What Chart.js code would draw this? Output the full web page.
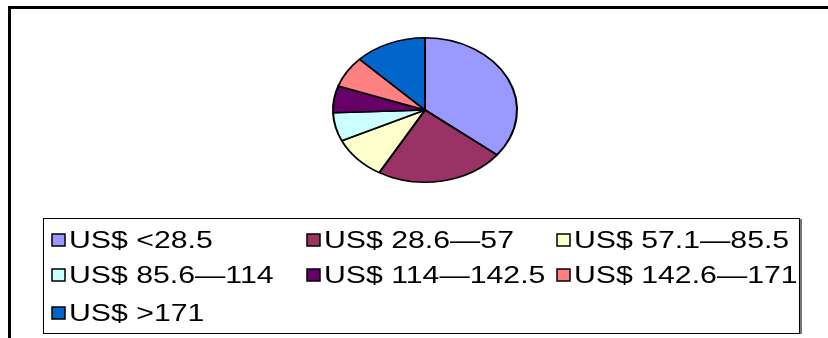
<!DOCTYPE html>
<html>
<head>
<meta charset="utf-8">
<script src="https://cdn.jsdelivr.net/npm/chart.js@4"></script>
<style>
html,body{margin:0;padding:0;background:#fff;}
#wrap{position:relative;width:828px;height:338px;}
</style>
</head>
<body>
<div id="wrap"><canvas id="c" width="828" height="338"></canvas></div>
<script>
const categories = ["US$ <28.5","US$ 28.6\u201457","US$ 57.1\u201485.5","US$ 85.6\u2014114","US$ 114\u2014142.5","US$ 142.6\u2014171","US$ >171"];
const shares = [35.7, 22.6, 9.7, 6.4, 6.0, 7.0, 12.6];
const colors = ["#9999FF","#993366","#FFFFCC","#CCFFFF","#660066","#FF8080","#0066CC"];

const ellipse = {
  id:'ellipse',
  beforeDatasetsDraw(chart){
    const ctx=chart.ctx, a=chart.chartArea;
    const cx=(a.left+a.right)/2, cy=(a.top+a.bottom)/2;
    ctx.save();
    ctx.translate(cx,cy); ctx.scale(93/73,1); ctx.translate(-cx,-cy);
  },
  afterDatasetsDraw(chart){ chart.ctx.restore(); }
};

const frameLegend = {
  id:'frameLegend',
  afterDraw(chart){
    const ctx=chart.ctx;
    ctx.save();
    ctx.strokeStyle='#000'; ctx.lineWidth=3;
    ctx.beginPath(); ctx.moveTo(9.5,340); ctx.lineTo(9.5,7.5); ctx.lineTo(830,7.5); ctx.stroke();
    ctx.lineWidth=1; ctx.strokeStyle='#000';
    ctx.strokeRect(43.5,218.5,756,115);
    ctx.strokeStyle='#777'; ctx.lineWidth=2;
    ctx.beginPath(); ctx.moveTo(801,219); ctx.lineTo(801,334); ctx.stroke();
    const colX=[52,307,557], rowY=[240,275,313];
    ctx.font='24px "Liberation Sans", Arial, sans-serif';
    ctx.textBaseline='middle'; ctx.textAlign='left';
    chart.data.labels.forEach((lab,i)=>{
      const x=colX[i%3], y=rowY[Math.floor(i/3)];
      ctx.fillStyle=chart.data.datasets[0].backgroundColor[i];
      ctx.fillRect(x,y-6,13,12);
      ctx.strokeStyle='#000'; ctx.lineWidth=1.5;
      ctx.strokeRect(x,y-6,13,12);
      ctx.fillStyle='#000';
      ctx.save();
      ctx.translate(x+17,y+1); ctx.scale(1.26,1);
      ctx.fillText(lab,0,0);
      ctx.restore();
    });
    ctx.restore();
  }
};

new Chart(document.getElementById('c'),{
  type:'pie',
  data:{labels:categories,datasets:[{data:shares,backgroundColor:colors,borderColor:'#000',borderWidth:1.6}]},
  options:{
    responsive:false,animation:false,
    layout:{padding:{left:200,right:178,top:37,bottom:155}},
    plugins:{legend:{display:false},tooltip:{enabled:false}}
  },
  plugins:[ellipse,frameLegend]
});
</script>
</body>
</html>
